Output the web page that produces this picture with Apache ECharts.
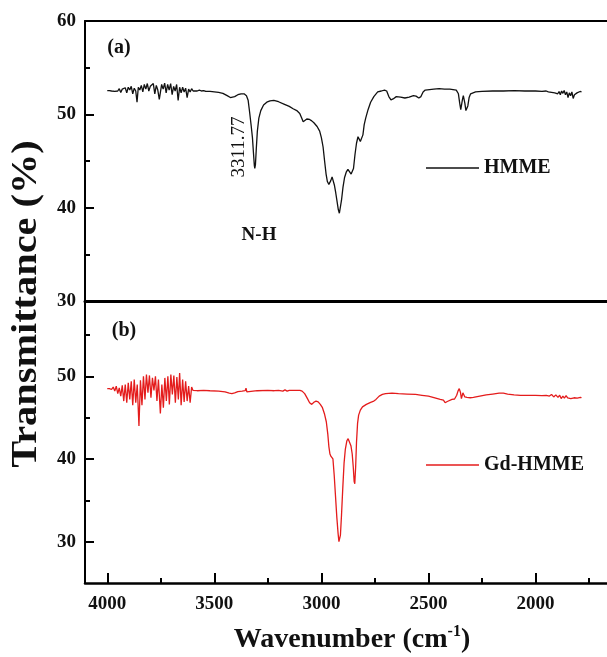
<!DOCTYPE html>
<html><head><meta charset="utf-8">
<script src="https://cdn.jsdelivr.net/npm/echarts@6/dist/echarts.min.js"></script>
<style>html,body{margin:0;padding:0;background:#fff}#c{width:607px;height:657px}</style>
</head><body><div id="c"></div>
<script>
// HMME (a): [wavenumber, transmittance]
const hmmeData = [[4000,52.55],[3990,52.55],[3980,52.5],[3972,52.6],[3965,52.45],[3958,52.6],[3951,52.5],[3944,52.75],[3937,52.35],[3930,52.7],[3923,52.5],[3916,52.85],[3909,52.3],[3902,52.9],[3895,52.6],[3888,53.0],[3881,52.2],[3874,52.8],[3867,52.5],[3861,51.3],[3855,52.9],[3848,52.6],[3841,53.1],[3834,52.4],[3827,53.2],[3820,52.7],[3813,53.3],[3806,52.5],[3799,53.0],[3792,52.8],[3785,53.3],[3778,52.2],[3771,53.1],[3764,52.6],[3757,51.6],[3753,51.4],[3746,53.2],[3739,52.7],[3732,53.35],[3725,52.3],[3718,53.2],[3711,52.6],[3704,53.3],[3697,52.1],[3690,53.0],[3683,52.5],[3676,53.2],[3669,51.5],[3662,52.9],[3655,52.3],[3648,52.9],[3641,52.4],[3634,52.8],[3627,51.8],[3620,52.7],[3613,52.4],[3606,52.75],[3599,52.5],[3590,52.7],[3580,52.5],[3570,52.6],[3560,52.5],[3550,52.55],[3540,52.45],[3520,52.45],[3500,52.4],[3480,52.35],[3460,52.25],[3440,52.0],[3425,51.8],[3417,51.75],[3405,51.9],[3390,52.1],[3375,52.2],[3361,52.2],[3350,52.0],[3342,51.5],[3335,50.2],[3328,48.8],[3322,47.5],[3317,45.8],[3313,44.5],[3311,44.2],[3308,44.6],[3304,46.3],[3299,48.2],[3292,49.6],[3283,50.4],[3270,51.0],[3255,51.3],[3240,51.45],[3222,51.5],[3200,51.35],[3175,51.1],[3150,50.85],[3132,50.6],[3115,50.4],[3101,50.1],[3092,49.6],[3085,49.2],[3077,49.4],[3068,49.5],[3055,49.45],[3045,49.3],[3035,49.1],[3020,48.7],[3008,48.2],[3000,47.5],[2992,46.5],[2985,45.0],[2978,43.6],[2972,42.8],[2965,42.5],[2961,42.45],[2956,42.9],[2950,43.3],[2945,43.2],[2939,42.4],[2933,41.6],[2927,40.7],[2921,39.8],[2916,39.4],[2912,39.6],[2906,40.8],[2899,42.2],[2892,43.2],[2884,43.8],[2876,44.1],[2868,44.0],[2861,43.6],[2856,43.4],[2850,44.2],[2843,45.7],[2836,46.9],[2829,47.6],[2824,47.5],[2818,47.1],[2812,47.0],[2806,47.8],[2800,48.9],[2793,49.6],[2782,50.5],[2770,51.3],[2755,51.9],[2737,52.4],[2720,52.5],[2705,52.6],[2695,52.5],[2685,51.9],[2675,51.55],[2665,51.65],[2650,51.9],[2630,51.85],[2610,51.75],[2590,51.85],[2570,52.0],[2558,51.95],[2545,51.75],[2535,51.9],[2525,52.4],[2515,52.6],[2495,52.65],[2475,52.7],[2450,52.75],[2425,52.7],[2400,52.7],[2385,52.65],[2370,52.6],[2360,52.2],[2354,51.2],[2349,50.5],[2345,50.6],[2341,51.6],[2337,52.0],[2334,51.9],[2330,51.2],[2325,50.4],[2321,50.3],[2316,50.9],[2310,51.8],[2303,52.2],[2295,52.35],[2280,52.4],[2250,52.45],[2200,52.5],[2150,52.5],[2100,52.55],[2050,52.5],[2000,52.5],[1970,52.45],[1950,52.5],[1940,52.4],[1932,52.55],[1925,52.35],[1918,52.55],[1910,52.3],[1903,52.5],[1896,52.2],[1890,52.45],[1884,52.1],[1878,52.5],[1872,52.25],[1866,52.55],[1860,52.1],[1854,52.4],[1848,51.8],[1842,52.3],[1836,52.0],[1830,52.4],[1824,51.7],[1818,52.1],[1812,51.9],[1806,52.3],[1800,52.2],[1792,52.45],[1785,52.4]];
// Gd-HMME (b): [wavenumber, transmittance]
const gdData = [[4000,48.5],[3990,48.5],[3980,48.4],[3972,48.7],[3965,48.2],[3958,48.8],[3951,47.9],[3944,48.6],[3937,47.6],[3930,48.9],[3923,47.0],[3916,49.0],[3909,46.8],[3902,49.2],[3895,47.2],[3888,49.4],[3881,46.5],[3874,49.6],[3867,46.8],[3860,49.0],[3852,44.0],[3845,49.5],[3838,46.5],[3831,50.0],[3824,47.2],[3817,50.2],[3810,48.0],[3803,50.1],[3796,47.4],[3789,49.8],[3782,48.3],[3775,50.0],[3768,47.0],[3761,49.6],[3752,45.5],[3745,49.0],[3738,46.2],[3731,49.8],[3724,47.0],[3717,50.0],[3710,46.6],[3703,50.2],[3696,47.8],[3689,50.1],[3682,46.8],[3675,49.9],[3668,47.2],[3662,50.4],[3655,46.5],[3648,49.6],[3641,46.9],[3634,49.4],[3627,47.0],[3620,48.8],[3613,46.8],[3606,48.7],[3600,48.3],[3580,48.25],[3550,48.3],[3520,48.25],[3480,48.2],[3450,48.1],[3430,47.95],[3418,47.9],[3405,48.0],[3390,48.15],[3370,48.2],[3356,48.25],[3352,48.55],[3348,48.1],[3340,48.25],[3300,48.25],[3250,48.3],[3220,48.25],[3200,48.3],[3180,48.2],[3170,48.35],[3160,48.2],[3150,48.3],[3130,48.3],[3100,48.3],[3090,48.2],[3078,47.9],[3065,47.3],[3055,46.8],[3045,46.6],[3035,46.85],[3025,47.0],[3015,46.9],[3005,46.6],[2995,46.2],[2985,45.4],[2977,44.5],[2970,43.0],[2965,41.5],[2960,40.6],[2955,40.3],[2950,40.35],[2946,40.0],[2940,38.0],[2934,35.5],[2928,33.0],[2922,31.0],[2918,30.0],[2915,29.8],[2911,30.8],[2906,33.2],[2900,36.5],[2894,39.5],[2888,41.2],[2881,42.2],[2875,42.45],[2869,42.3],[2862,41.6],[2856,40.6],[2851,39.0],[2847,37.3],[2844,37.0],[2840,39.0],[2836,42.0],[2831,44.3],[2826,45.3],[2818,45.9],[2808,46.3],[2790,46.6],[2770,46.85],[2755,47.0],[2745,47.2],[2730,47.6],[2715,47.8],[2700,47.9],[2670,47.95],[2640,47.9],[2600,47.85],[2560,47.8],[2530,47.7],[2500,47.6],[2470,47.4],[2445,47.2],[2430,47.1],[2422,46.8],[2417,46.6],[2412,46.95],[2405,47.1],[2390,47.2],[2378,47.25],[2368,47.7],[2362,48.2],[2356,48.5],[2350,48.0],[2346,47.3],[2343,47.5],[2339,48.0],[2335,47.9],[2330,47.5],[2320,47.45],[2305,47.4],[2290,47.45],[2260,47.6],[2230,47.75],[2200,47.85],[2170,47.95],[2150,47.95],[2130,47.85],[2100,47.75],[2070,47.7],[2040,47.7],[2000,47.7],[1970,47.65],[1950,47.7],[1935,47.6],[1925,47.8],[1915,47.5],[1905,47.75],[1895,47.45],[1887,47.7],[1880,47.3],[1872,47.6],[1865,47.35],[1857,47.65],[1850,47.4],[1842,47.6],[1835,47.3],[1828,47.5],[1820,47.4],[1812,47.55],[1805,47.35],[1798,47.5],[1790,47.45],[1785,47.4]];
// tick values
const xMajor = [4000,3500,3000,2500,2000];
const xMinor = [3750,3250,2750,2250,1750];
const yTopMajor = [30,40,50,60];
const yTopMinor = [35,45,55];
const yBotMajor = [30,40,50];
const yBotMinor = [35,45,55];

const F = 'Liberation Serif, Times New Roman, serif';
const X_MIN = 1666, X_MAX = 4104;

const chart = echarts.init(document.getElementById('c'));
const lblStyle = {fontFamily: F, fontWeight: 'bold', fontSize: 19, color: '#111', formatter: v => String(v)};
const hidden = {splitLine: {show: false}, axisLabel: {show: false}, axisTick: {show: false}, axisLine: {show: false, onZero: false}};
const xBase = (grid, extra) => Object.assign({type: 'value', gridIndex: grid, min: X_MIN, max: X_MAX, inverse: true, offset: 0}, hidden, extra);
const yBase = (grid, min, max, extra) => Object.assign({type: 'value', gridIndex: grid, min: min, max: max, position: 'left', offset: 0}, hidden, extra);
const tickLS = {color: '#000', width: 2};

chart.setOption({
  animation: false,
  backgroundColor: '#fff',
  grid: [
    {left: 85, top: 21, right: 0, height: 280},
    {left: 85, top: 301, right: 0, height: 282}
  ],
  xAxis: [
    xBase(0, {position: 'bottom', axisLine: {show: true, onZero: false, lineStyle: {color: '#000', width: 3}}}),
    xBase(0, {position: 'top', axisLine: {show: true, onZero: false, lineStyle: {color: '#000', width: 2}}}),
    xBase(1, {position: 'bottom',
      axisLine: {show: true, onZero: false, lineStyle: {color: '#000', width: 2.5}},
      axisTick: {show: true, inside: true, length: 10, customValues: xMajor, lineStyle: tickLS},
      axisLabel: Object.assign({show: true, margin: 12, customValues: xMajor}, lblStyle)}),
    xBase(1, {position: 'bottom',
      axisTick: {show: true, inside: true, length: 5, customValues: xMinor, lineStyle: tickLS}})
  ],
  yAxis: [
    yBase(0, 30, 60, {
      axisLine: {show: true, onZero: false, lineStyle: {color: '#000', width: 2}},
      axisTick: {show: true, inside: true, length: 9, customValues: yTopMajor, lineStyle: tickLS},
      axisLabel: Object.assign({show: true, margin: 9, customValues: yTopMajor}, lblStyle)}),
    yBase(0, 30, 60, {
      axisTick: {show: true, inside: true, length: 5, customValues: yTopMinor, lineStyle: tickLS}}),
    yBase(1, 25, 59.1, {
      axisLine: {show: true, onZero: false, lineStyle: {color: '#000', width: 2}},
      axisTick: {show: true, inside: true, length: 9, customValues: yBotMajor, lineStyle: tickLS},
      axisLabel: Object.assign({show: true, margin: 9, customValues: yBotMajor}, lblStyle)}),
    yBase(1, 25, 59.1, {
      axisTick: {show: true, inside: true, length: 5, customValues: yBotMinor, lineStyle: tickLS}})
  ],
  legend: [
    {data: ['HMME'], left: 426, top: 158, padding: 0, icon: 'rect', itemWidth: 53, itemHeight: 1.4, itemGap: 0,
     textStyle: {fontFamily: F, fontWeight: 'bold', fontSize: 20, color: '#111', lineHeight: 20}},
    {data: ['Gd-HMME'], left: 426, top: 455, padding: 0, icon: 'rect', itemWidth: 53, itemHeight: 1.4, itemGap: 0,
     textStyle: {fontFamily: F, fontWeight: 'bold', fontSize: 20, color: '#111', lineHeight: 20}}
  ],
  series: [
    {name: 'HMME', type: 'line', xAxisIndex: 0, yAxisIndex: 0, data: hmmeData,
     showSymbol: false, symbol: 'none', lineStyle: {color: '#111', width: 1.3}, itemStyle: {color: '#111'}},
    {name: 'Gd-HMME', type: 'line', xAxisIndex: 2, yAxisIndex: 2, data: gdData,
     showSymbol: false, symbol: 'none', lineStyle: {color: '#e41c1c', width: 1.3}, itemStyle: {color: '#e41c1c'}}
  ],
  graphic: [
    {type: 'text', x: 119, y: 48, style: {text: '(a)', font: 'bold 20px ' + F, fill: '#111', textAlign: 'center', textVerticalAlign: 'middle'}},
    {type: 'text', x: 124, y: 331, style: {text: '(b)', font: 'bold 20px ' + F, fill: '#111', textAlign: 'center', textVerticalAlign: 'middle'}},
    {type: 'text', x: 239, y: 147, rotation: Math.PI / 2, style: {text: '3311.77', font: '19px ' + F, fill: '#111', textAlign: 'center', textVerticalAlign: 'middle'}},
    {type: 'text', x: 259, y: 235, style: {text: 'N-H', font: 'bold 19px ' + F, fill: '#111', textAlign: 'center', textVerticalAlign: 'middle'}},
    {type: 'text', x: 27, y: 304, rotation: Math.PI / 2, scaleX: 1.12, style: {text: 'Transmittance (%)', font: 'bold 36px ' + F, fill: '#111', textAlign: 'center', textVerticalAlign: 'middle'}},
    {type: 'text', x: 352, y: 639, style: {text: '{a|Wavenumber (cm}{s|-1}{a|)}', fill: '#111', textAlign: 'center', textVerticalAlign: 'middle',
      rich: {a: {font: 'bold 28px ' + F, fill: '#111', verticalAlign: 'bottom', lineHeight: 30},
             s: {font: 'bold 16px ' + F, fill: '#111', verticalAlign: 'top', lineHeight: 30, padding: [0, 0, 12, 0]}}}}
  ]
});
</script></body></html>
